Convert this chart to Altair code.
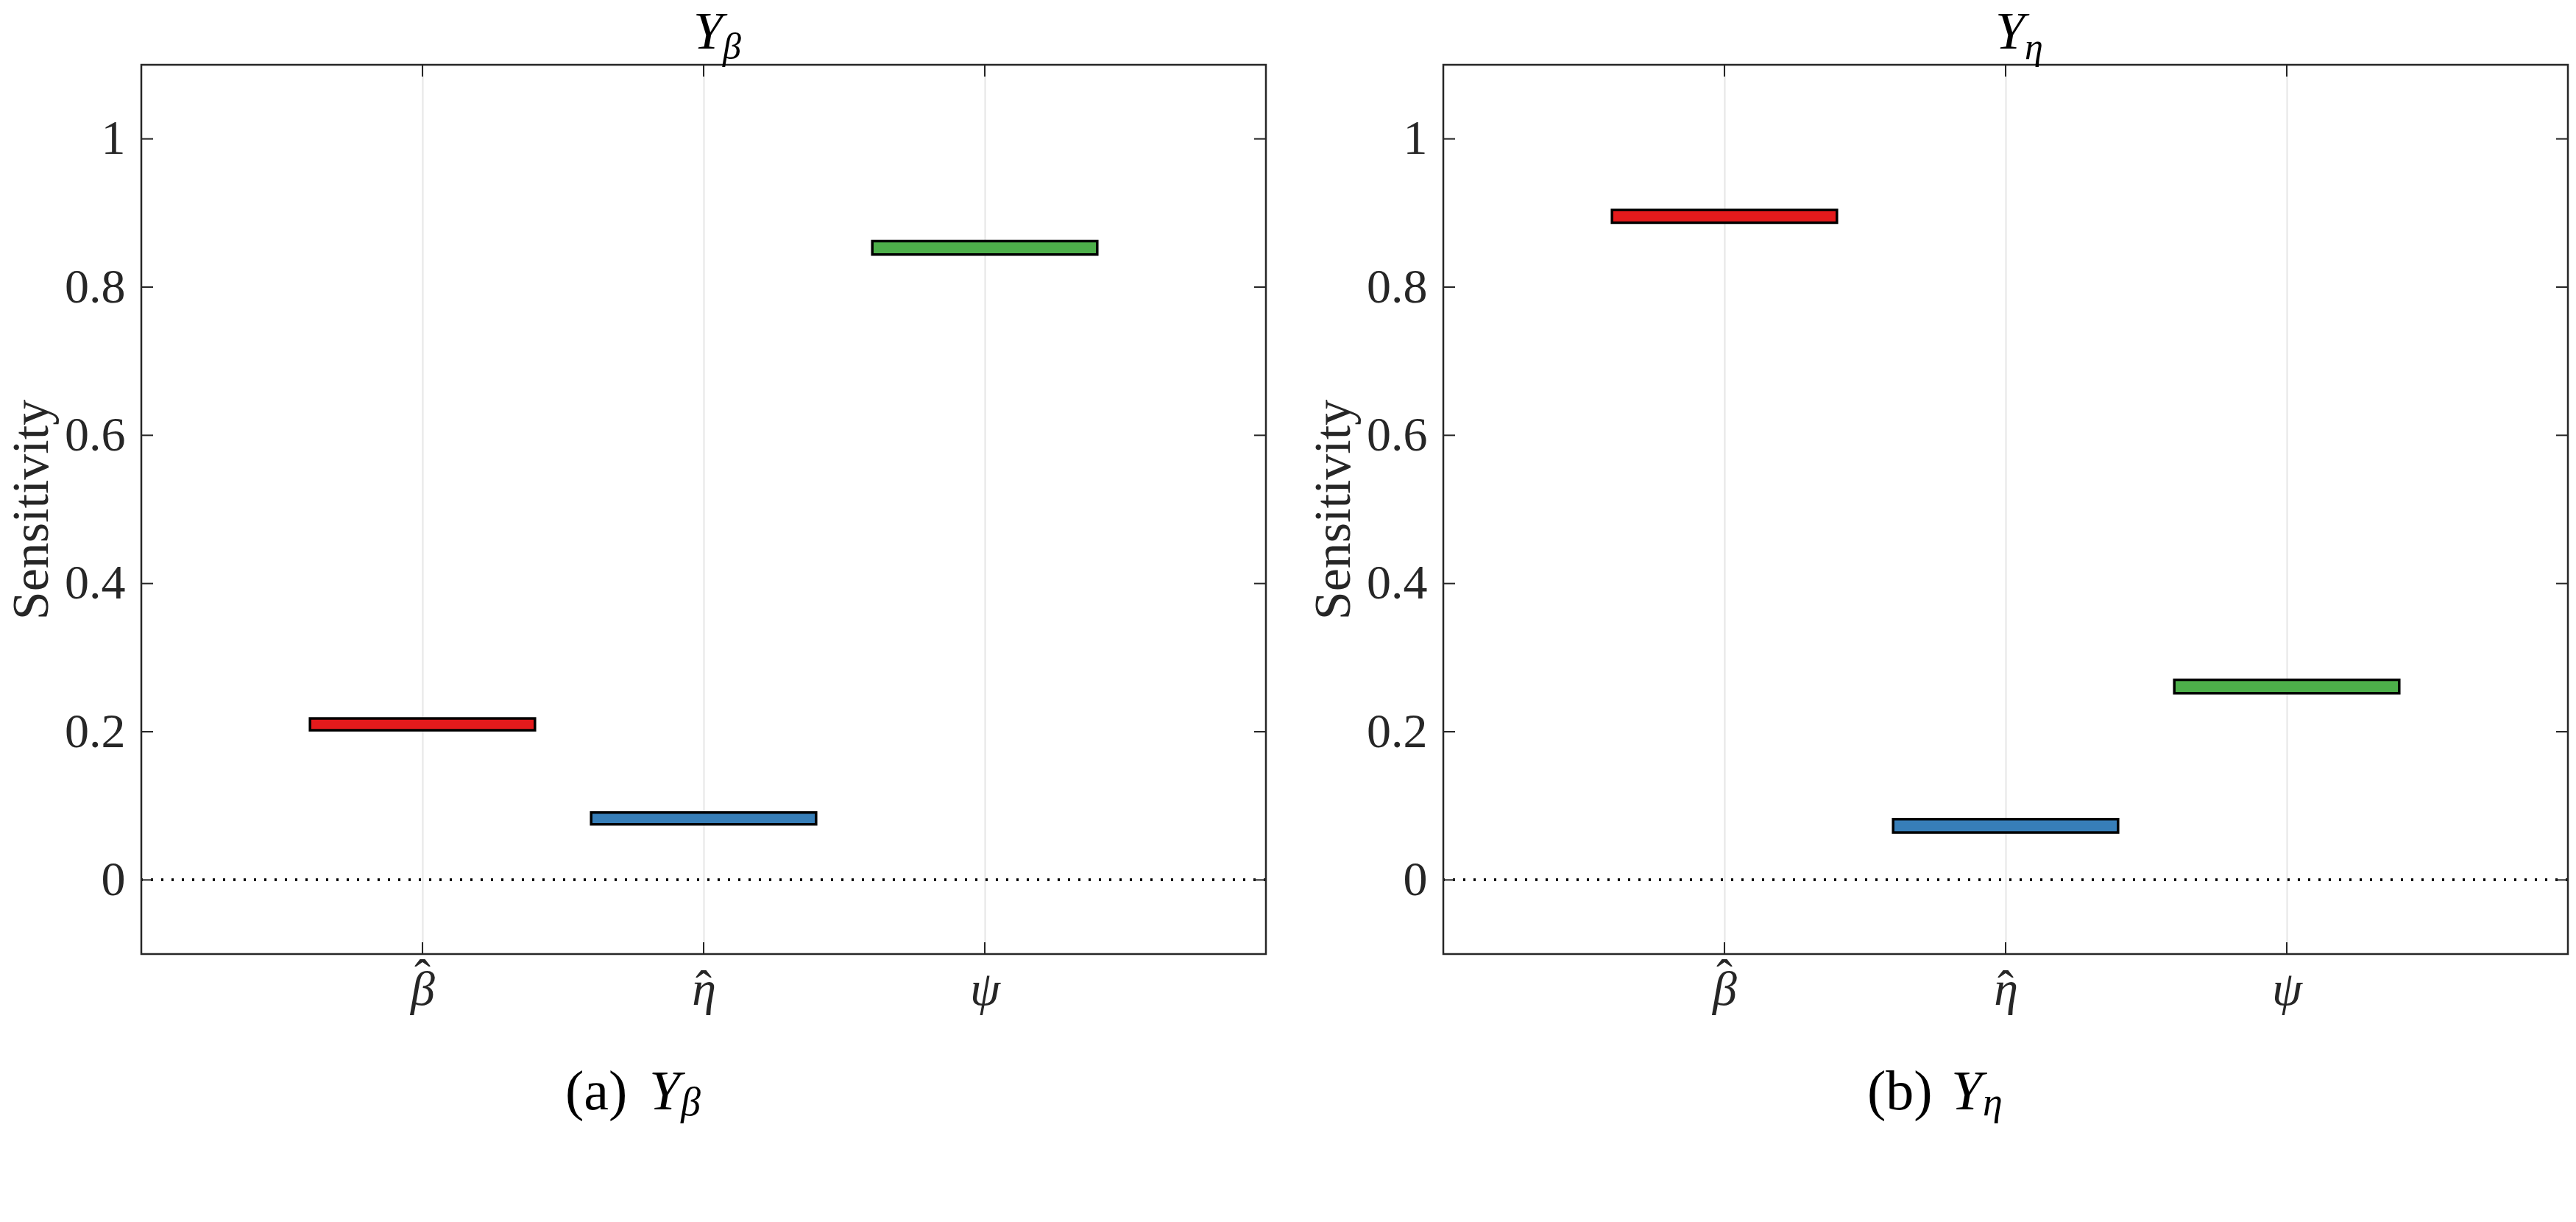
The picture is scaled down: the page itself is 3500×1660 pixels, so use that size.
import altair as alt
import pandas as pd

# ---------------- data ----------------
param_symbol = ["β", "η", "ψ"]
param_has_hat = [True, True, False]
param_pos = [1, 2, 3]
panel_a_low = [0.202, 0.075, 0.844]
panel_a_high = [0.218, 0.091, 0.862]
panel_b_low = [0.887, 0.064, 0.252]
panel_b_high = [0.904, 0.082, 0.270]
y_ticks = [0, 0.2, 0.4, 0.6, 0.8, 1]
title_main = ["Y", "Y"]
title_sub = ["β", "η"]
caption_tag = ["(a)", "(b)"]

# ---------------- style ----------------
BAR_COLORS = ["#E41A1C", "#377EB8", "#4DAF4A"]
W, H = 1528, 1208
FONT = "Liberation Serif"
AX = "#262626"
HALF = 0.4
TICK = 16
HAT_LIFT = {"β": 17, "η": 2, "ψ": 0}
LABEL_BASE = H + 70   # baseline of the x tick labels (pixels from plot top)

xs = alt.Scale(domain=[0, 4], nice=False, zero=False)
ys = alt.Scale(domain=[-0.1, 1.1], nice=False, zero=False)
label_expr = "[" + ",".join("'" + p + "'" for p in param_symbol) + "][datum.value - 1]"

xaxis = alt.Axis(values=param_pos, labelExpr=label_expr, grid=True, gridColor="#e6e6e6",
                 gridWidth=2, domain=False, ticks=False, labelFont=FONT, labelFontSize=66,
                 labelFontStyle="italic", labelColor=AX, labelPadding=16, title=None)
yaxis = alt.Axis(values=y_ticks, format="~g", grid=False, domain=False, ticks=False,
                 labelFont=FONT, labelFontSize=66, labelColor=AX, labelPadding=22,
                 title="Sensitivity", titleFont=FONT, titleFontSize=70, titleFontWeight="normal",
                 titleColor=AX, titlePadding=8)


def text_layer(txt, x, y, size, style="normal", align="left", color="black"):
    return alt.Chart(pd.DataFrame({"t": [txt]})).mark_text(
        font=FONT, fontSize=size, fontStyle=style, align=align, baseline="alphabetic", color=color
    ).encode(text="t:N", x=alt.value(x), y=alt.value(y))


def panel(lows, highs, tmain, tsub, tag):
    df = pd.DataFrame({"param": param_symbol, "pos": param_pos, "low": lows, "high": highs,
                       "hat": param_has_hat})
    ticks_y = pd.DataFrame({"v": y_ticks})
    ticks_x = pd.DataFrame({"v": param_pos})
    frame = pd.DataFrame({"k": [0]})

    bars = alt.Chart(df).transform_calculate(
        x0=f"datum.pos - {HALF}", x1=f"datum.pos + {HALF}"
    ).mark_rect(stroke="black", strokeWidth=3.5).encode(
        x=alt.X("x0:Q", scale=xs, axis=xaxis),
        x2="x1:Q",
        y=alt.Y("low:Q", scale=ys, axis=yaxis),
        y2="high:Q",
        color=alt.Color("param:N", scale=alt.Scale(domain=param_symbol, range=BAR_COLORS), legend=None),
    )

    lift_expr = "{" + ",".join(f"'{k}': {v}" for k, v in HAT_LIFT.items()) + "}[datum.param]"
    hats = alt.Chart(df).transform_filter("datum.hat").transform_calculate(
        lift=f"-({lift_expr})", glyph="'\u02c6'"
    ).mark_text(font=FONT, fontSize=66, baseline="alphabetic", align="center", color=AX).encode(
        x=alt.X("pos:Q", scale=xs, axis=xaxis),
        y=alt.value(LABEL_BASE),
        yOffset=alt.YOffset("lift:Q", scale=None),
        text="glyph:N",
    )

    zero = alt.Chart(ticks_y).mark_rule(color="black", strokeWidth=3, strokeDash=[3, 11]).encode(
        y=alt.Y(datum=0, scale=ys, axis=yaxis)
    )

    ytl = alt.Chart(ticks_y).mark_rule(color=AX, strokeWidth=2).encode(
        y=alt.Y("v:Q", scale=ys, axis=yaxis), x=alt.value(0), x2=alt.value(TICK))
    ytr = alt.Chart(ticks_y).mark_rule(color=AX, strokeWidth=2).encode(
        y=alt.Y("v:Q", scale=ys, axis=yaxis), x=alt.value(W - TICK), x2=alt.value(W))
    xtb = alt.Chart(ticks_x).mark_rule(color=AX, strokeWidth=2).encode(
        x=alt.X("v:Q", scale=xs, axis=xaxis), y=alt.value(H - TICK), y2=alt.value(H))
    xtt = alt.Chart(ticks_x).mark_rule(color=AX, strokeWidth=2).encode(
        x=alt.X("v:Q", scale=xs, axis=xaxis), y=alt.value(0), y2=alt.value(TICK))

    box = alt.Chart(frame).mark_rect(fill=None, fillOpacity=0, stroke=AX, strokeWidth=2.5).encode(
        x=alt.value(0), x2=alt.value(W), y=alt.value(0), y2=alt.value(H))

    t1 = text_layer(tmain, 770, -22, 72, "italic", "center")
    t2 = text_layer(tsub, 790, -8, 50, "italic", "left")
    c1 = text_layer(tag, 576, H + 211, 76, "normal", "left")
    c2 = text_layer("Y", 690, H + 211, 76, "italic", "left")
    c3 = text_layer(tsub, 733, H + 219, 54, "italic", "left")

    return alt.layer(zero, bars, hats, ytl, ytr, xtb, xtt, box, t1, t2, c1, c2, c3).properties(
        width=W, height=H)


pa = panel(panel_a_low, panel_a_high, title_main[0], title_sub[0], caption_tag[0])
pb = panel(panel_b_low, panel_b_high, title_main[1], title_sub[1], caption_tag[1])

chart = alt.hconcat(pa, pb, spacing=55).properties(
    padding={"left": 0, "top": 0, "right": 0, "bottom": 0}
).configure(background="white").configure_view(stroke=None)

chart.save("out.html", embed_options={"renderer": "svg", "actions": False})
